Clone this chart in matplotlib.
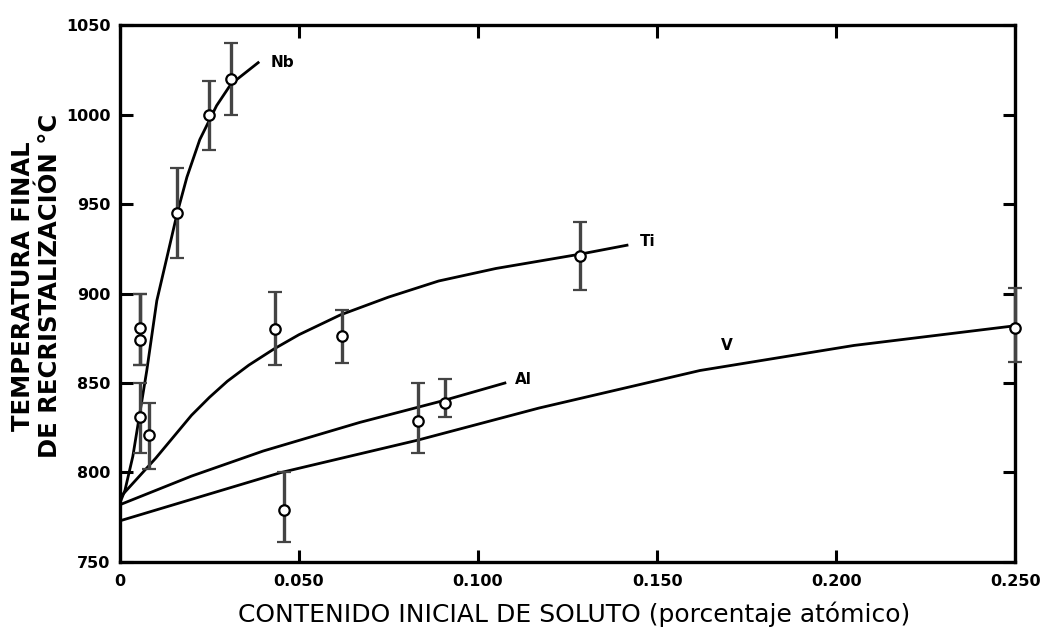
import matplotlib.pyplot as plt

plt.rcParams.update({
    "font.family": "sans-serif", "font.sans-serif": ["DejaVu Sans"],
    "xtick.direction": "in", "ytick.direction": "in",
})

# curvas ajustadas
nb_x = [0.0, 0.0014, 0.0036, 0.0075, 0.0103, 0.0131, 0.016, 0.0187, 0.0223, 0.027, 0.031, 0.0386]
nb_y = [783, 790, 809, 857, 896, 920, 945, 965, 986, 1005, 1017, 1029]
ti_x = [0.0, 0.005, 0.010, 0.015, 0.020, 0.025, 0.030, 0.036, 0.043, 0.050, 0.0615,
        0.075, 0.089, 0.105, 0.1285, 0.1416]
ti_y = [786, 797, 808, 820, 832, 842, 851, 860, 869, 877, 888, 898, 907, 914, 922, 927]
al_x = [0.0, 0.02, 0.04, 0.067, 0.090, 0.1075]
al_y = [782, 798, 812, 828, 840, 850]
v_x = [0.0, 0.045, 0.083, 0.117, 0.162, 0.205, 0.250]
v_y = [773, 800, 818, 836, 857, 871, 882]

# puntos experimentales con barras de error
nb_px = [0.0056, 0.0056, 0.0056, 0.0081, 0.016, 0.025, 0.031]
nb_py = [881, 874, 831, 821, 945, 1000, 1020]
nb_lo = [860, 860, 811, 802, 920, 980, 1000]
nb_hi = [900, 900, 850, 839, 970, 1019, 1040]
ti_px = [0.0433, 0.062, 0.1285]
ti_py = [880, 876, 921]
ti_lo = [860, 861, 902]
ti_hi = [901, 891, 940]
al_px = [0.0832, 0.0908]
al_py = [829, 839]
al_lo = [811, 831]
al_hi = [850, 852]
v_px = [0.0458, 0.250]
v_py = [779, 881]
v_lo = [761, 862]
v_hi = [800, 903]

fig = plt.figure(figsize=(10.52, 6.43), dpi=100)
ax = fig.add_axes([0.114, 0.126, 0.851, 0.835])

for xs, ys in [(nb_x, nb_y), (ti_x, ti_y), (al_x, al_y), (v_x, v_y)]:
    ax.plot(xs, ys, color="black", lw=2.0, solid_joinstyle="round")

for px, py, lo, hi in [(nb_px, nb_py, nb_lo, nb_hi), (ti_px, ti_py, ti_lo, ti_hi),
                       (al_px, al_py, al_lo, al_hi), (v_px, v_py, v_lo, v_hi)]:
    err = [[y - l for y, l in zip(py, lo)], [h - y for y, h in zip(py, hi)]]
    ax.errorbar(px, py, yerr=err, fmt="o", ms=7.5, mfc="white", mec="black", mew=1.6,
                ecolor="#444444", elinewidth=2.4, capsize=5, capthick=2.4, clip_on=False,
                zorder=3)

ax.text(0.0455, 1029, "Nb", fontsize=11, fontweight="bold", va="center", ha="center")
ax.text(0.1475, 929, "Ti", fontsize=11, fontweight="bold", va="center", ha="center")
ax.text(0.1126, 852, "Al", fontsize=11, fontweight="bold", va="center", ha="center")
ax.text(0.1696, 871, "V", fontsize=11, fontweight="bold", va="center", ha="center")

ax.set_xlim(0, 0.250)
ax.set_ylim(750, 1050)
xt = [0, 0.050, 0.100, 0.150, 0.200, 0.250]
ax.set_xticks(xt)
ax.set_xticklabels(["0", "0.050", "0.100", "0.150", "0.200", "0.250"],
                   fontsize=11.5, fontweight="bold")
yt = [750, 800, 850, 900, 950, 1000, 1050]
ax.set_yticks(yt)
ax.set_yticklabels([str(v) for v in yt], fontsize=11.5, fontweight="bold")
ax.tick_params(top=True, right=True, length=9, width=2.2)
ax.tick_params(axis="y", pad=7)
ax.tick_params(axis="x", pad=9)
for s in ax.spines.values():
    s.set_linewidth(2.4)

ax.set_xlabel("CONTENIDO INICIAL DE SOLUTO (porcentaje atómico)", fontsize=18)
ax.xaxis.set_label_coords(0.507, -0.097)
ax.xaxis.label.set_va("center")
ax.set_ylabel("TEMPERATURA FINAL\nDE RECRISTALIZACIÓN °C", fontsize=17.5,
              fontweight="bold", linespacing=1.15)
ax.yaxis.set_label_coords(-0.093, 0.514)
ax.yaxis.label.set_va("center")

fig.savefig("out.png", dpi=100)
